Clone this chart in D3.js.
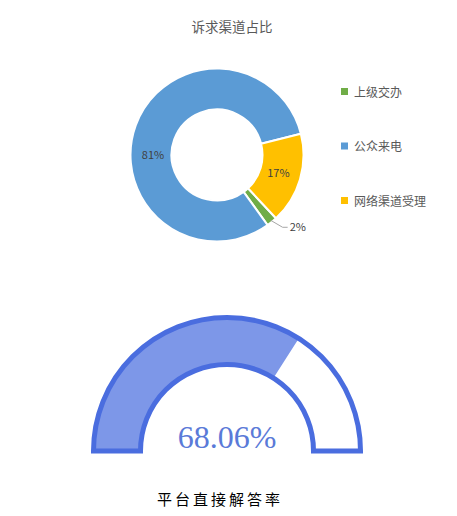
<!DOCTYPE html>
<html lang="zh">
<head>
  <meta charset="UTF-8" />
  <title>诉求渠道占比</title>
  <script src="https://d3js.org/d3.v7.min.js"></script>
  <style>
    html, body {
      margin: 0;
      padding: 0;
      background: #fff;
      overflow: hidden;
    }
    text { font-family: "Noto Sans CJK SC", "Noto Sans", sans-serif; }
  </style>
</head>
<body>
  <svg id="chart" width="457" height="516"></svg>

  <script>
    // Donut data
    const channels = ["上级交办", "公众来电", "网络渠道受理"];
    const shares = [2, 81, 17];
    const channelColors = ["#70ad47", "#5b9bd5", "#ffc000"];

    // Gauge data
    const gaugeValue = 68.06;
    const gaugeLabel = "平台直接解答率";

    const svg = d3.select("#chart");

    /* ---------- donut ---------- */
    svg.append("text")
      .attr("x", 232).attr("y", 32)
      .attr("text-anchor", "middle")
      .attr("font-size", 13.5)
      .attr("fill", "#595959")
      .text("诉求渠道占比");

    const cx = 217, cy = 155, outerR = 86.5, innerR = 45.5;
    const start = 137 * Math.PI / 180;

    const pie = d3.pie().sort(null)
      .startAngle(start).endAngle(start + 2 * Math.PI);
    const arcs = pie(shares);
    const arc = d3.arc().innerRadius(innerR).outerRadius(outerR);

    const donut = svg.append("g").attr("transform", `translate(${cx},${cy})`);

    donut.selectAll("path")
      .data(arcs)
      .enter()
      .append("path")
      .attr("d", arc)
      .attr("fill", (d, i) => channelColors[i])
      .attr("stroke", "#fff")
      .attr("stroke-width", 2);

    // labels: big slices inside, small one with a leader line
    const labelR = 64;
    arcs.forEach((d, i) => {
      if (d.data < 5) {
        const mid = (d.startAngle + d.endAngle) / 2;
        const p0 = [Math.sin(mid) * (outerR - 2), -Math.cos(mid) * (outerR - 2)];
        const p1 = [p0[0] + 12, p0[1] + 7];
        const p2 = [p1[0] + 5, p1[1]];
        donut.append("polyline")
          .attr("points", [p0, p1, p2].map(p => p.join(",")).join(" "))
          .attr("fill", "none")
          .attr("stroke", "#a6a6a6")
          .attr("stroke-width", 1);
        donut.append("text")
          .attr("x", p2[0] + 2).attr("y", p2[1] + 4)
          .attr("font-size", 11)
          .attr("fill", "#404040")
          .text(d.data + "%");
      } else {
        // the big slice label sits level with the centre, like the original
        let mid = (d.startAngle + d.endAngle) / 2;
        if (d.data > 50) mid = 1.5 * Math.PI;
        donut.append("text")
          .attr("x", Math.sin(mid) * labelR)
          .attr("y", -Math.cos(mid) * labelR + 4)
          .attr("text-anchor", "middle")
          .attr("font-size", 11)
          .attr("fill", "#404040")
          .text(d.data + "%");
      }
    });

    // legend
    const legendY = d3.scalePoint().domain(channels).range([92, 201]);
    const legend = svg.append("g");
    channels.forEach((c, i) => {
      legend.append("rect")
        .attr("x", 341).attr("y", legendY(c) - 4)
        .attr("width", 7).attr("height", 7)
        .attr("fill", channelColors[i]);
      legend.append("text")
        .attr("x", 354).attr("y", legendY(c) + 4.5)
        .attr("font-size", 12)
        .attr("fill", "#595959")
        .text(c);
    });

    /* ---------- gauge ---------- */
    const gx = 227, gy = 451;
    const angle = d3.scaleLinear().domain([0, 100]).range([-Math.PI / 2, Math.PI / 2]);
    const gArc = d3.arc().innerRadius(86.5).outerRadius(133.5);

    const gauge = svg.append("g").attr("transform", `translate(${gx},${gy})`);

    gauge.append("path")
      .attr("d", gArc({ startAngle: angle(0), endAngle: angle(gaugeValue) }))
      .attr("fill", "#7d97e8");

    gauge.append("path")
      .attr("d", gArc({ startAngle: angle(0), endAngle: angle(100) }))
      .attr("fill", "none")
      .attr("stroke", "#4a6ddf")
      .attr("stroke-width", 5);

    gauge.append("text")
      .attr("x", 0).attr("y", -3)
      .attr("text-anchor", "middle")
      .style("font-family", "'Liberation Serif', 'DejaVu Serif', serif")
      .attr("font-size", 32)
      .attr("fill", "#5a7ad8")
      .text(gaugeValue.toFixed(2) + "%");

    svg.append("text")
      .attr("x", 220).attr("y", 505)
      .attr("text-anchor", "middle")
      .attr("font-size", 15)
      .attr("letter-spacing", 3)
      .attr("fill", "#000")
      .text(gaugeLabel);
  </script>
</body>
</html>
